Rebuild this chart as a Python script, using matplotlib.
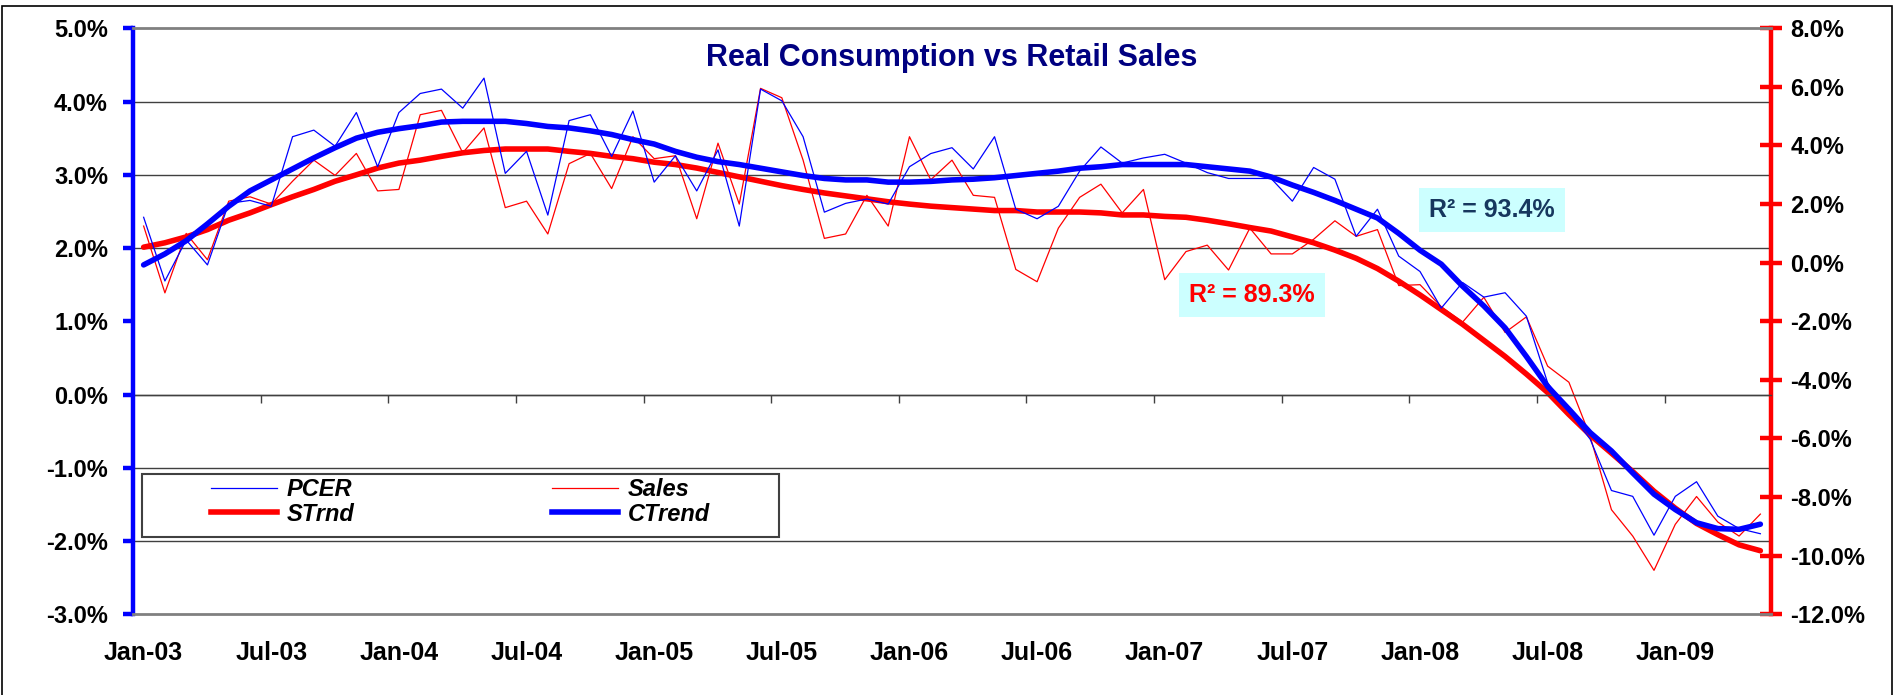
import matplotlib
matplotlib.use("Agg")
import matplotlib.pyplot as plt
from matplotlib.patches import Rectangle
from matplotlib.lines import Line2D
from matplotlib.ticker import FixedLocator, FuncFormatter

plt.rcParams["font.family"] = ["Liberation Sans", "DejaVu Sans"]
plt.rcParams["font.weight"] = "bold"

# Monthly, Jan-03 .. May-09 (yoy %)
pcer = [2.42, 1.55, 2.11, 1.77, 2.61, 2.65, 2.57, 3.52, 3.61, 3.39, 3.85, 3.11,
        3.85, 4.11, 4.17, 3.91, 4.32, 3.02, 3.32, 2.45, 3.74, 3.82, 3.25, 3.87,
        2.90, 3.26, 2.78, 3.34, 2.30, 4.17, 4.01, 3.52, 2.49, 2.61, 2.67, 2.60,
        3.11, 3.29, 3.37, 3.08, 3.52, 2.53, 2.40, 2.57, 3.05, 3.38, 3.16, 3.23,
        3.28, 3.16, 3.03, 2.95, 2.95, 2.95, 2.64, 3.10, 2.94, 2.16, 2.53, 1.89,
        1.68, 1.18, 1.53, 1.33, 1.39, 1.07, 0.16, -0.23, -0.61, -1.31, -1.39, -1.92,
        -1.39, -1.19, -1.66, -1.83, -1.90]
ctrend = [1.77, 1.92, 2.10, 2.33, 2.57, 2.78, 2.93, 3.08, 3.23, 3.37, 3.50, 3.58,
          3.63, 3.67, 3.72, 3.73, 3.73, 3.73, 3.70, 3.66, 3.64, 3.60, 3.55, 3.48,
          3.42, 3.32, 3.24, 3.18, 3.14, 3.09, 3.04, 2.99, 2.95, 2.93, 2.93, 2.90,
          2.90, 2.91, 2.93, 2.94, 2.96, 2.99, 3.02, 3.05, 3.09, 3.11, 3.14, 3.14,
          3.14, 3.14, 3.11, 3.08, 3.05, 2.97, 2.86, 2.76, 2.65, 2.53, 2.41, 2.20,
          1.97, 1.78, 1.48, 1.21, 0.91, 0.52, 0.11, -0.20, -0.52, -0.77, -1.07, -1.36,
          -1.57, -1.75, -1.83, -1.84, -1.77]
sales = [1.25, -1.03, 1.00, 0.10, 2.10, 2.25, 2.00, 2.78, 3.50, 2.98, 3.73, 2.45,
         2.50, 5.05, 5.20, 3.75, 4.60, 1.88, 2.10, 0.98, 3.38, 3.73, 2.53, 4.30,
         3.55, 3.65, 1.50, 4.08, 2.00, 5.95, 5.63, 3.50, 0.83, 0.98, 2.30, 1.25,
         4.30, 2.83, 3.50, 2.30, 2.23, -0.23, -0.65, 1.18, 2.23, 2.68, 1.70, 2.50,
         -0.58, 0.38, 0.60, -0.25, 1.18, 0.30, 0.30, 0.80, 1.43, 0.90, 1.13, -0.78,
         -0.75, -1.50, -2.03, -1.18, -2.38, -1.85, -3.53, -4.08, -5.93, -8.43, -9.33, -10.50,
         -8.93, -7.98, -8.85, -9.33, -8.58]
strnd = [0.53, 0.68, 0.88, 1.13, 1.45, 1.70, 1.98, 2.25, 2.50, 2.78, 3.00, 3.23,
         3.40, 3.50, 3.63, 3.75, 3.83, 3.88, 3.88, 3.88, 3.80, 3.73, 3.63, 3.55,
         3.43, 3.35, 3.23, 3.08, 2.93, 2.78, 2.63, 2.50, 2.38, 2.28, 2.18, 2.08,
         2.00, 1.93, 1.88, 1.83, 1.78, 1.78, 1.73, 1.73, 1.73, 1.70, 1.63, 1.63,
         1.58, 1.55, 1.45, 1.33, 1.20, 1.08, 0.88, 0.68, 0.43, 0.15, -0.20, -0.63,
         -1.10, -1.60, -2.10, -2.65, -3.20, -3.80, -4.43, -5.18, -5.88, -6.50, -7.13, -7.80,
         -8.38, -8.90, -9.28, -9.63, -9.83]

xlabels = ["Jan-03", "Jul-03", "Jan-04", "Jul-04", "Jan-05", "Jul-05", "Jan-06",
           "Jul-06", "Jan-07", "Jul-07", "Jan-08", "Jul-08", "Jan-09"]
r2_sales = "R\u00b2 = 89.3%"
r2_cons = "R\u00b2 = 93.4%"

BLUE = "#0000FF"
RED = "#FF0000"
GRID = "#404040"
EDGE = "#808080"

n = len(pcer)
x = list(range(n))

fig = plt.figure(figsize=(19, 6.95), dpi=100)
fig.patch.set_facecolor("white")
ax = fig.add_axes([133 / 1900, 1 - 614.3 / 695, (1771 - 133) / 1900, 586 / 695])
ax2 = ax.twinx()

L_LIM = (-3, 5)
R_LIM = (-12, 8)
ax.set_xlim(-0.5, n - 0.5)
ax.set_ylim(*L_LIM)
ax2.set_ylim(*R_LIM)

pct = FuncFormatter(lambda v, p: f"{v:.1f}%")
lticks = list(range(L_LIM[0], L_LIM[1] + 1))
ax.set_yticks(lticks)
ax.yaxis.set_major_formatter(pct)
ax2.set_yticks(list(range(R_LIM[0], R_LIM[1] + 1, 2)))
ax2.yaxis.set_major_formatter(pct)

# gridlines live on the lower (right) axes so they stay behind every line
def l_to_r(v):
    return R_LIM[0] + (v - L_LIM[0]) / (L_LIM[1] - L_LIM[0]) * (R_LIM[1] - R_LIM[0])

ax2.yaxis.set_minor_locator(FixedLocator([l_to_r(v) for v in lticks[1:-1]]))
ax2.grid(which="minor", axis="y", color=GRID, lw=1.0)
ax2.tick_params(axis="y", which="minor", length=0)

ax2.set_zorder(1)
ax.set_zorder(2)
ax.patch.set_visible(False)
ax2.patch.set_visible(True)
ax2.patch.set_facecolor("white")

# series
ax2.plot(x, sales, color=RED, lw=0.9)
ax2.plot(x, strnd, color=RED, lw=4, solid_capstyle="round")
ax.plot(x, pcer, color=BLUE, lw=0.9)
ax.plot(x, ctrend, color=BLUE, lw=4, solid_capstyle="round")

# spines
ax.spines["right"].set_visible(False)
ax.spines["left"].set_color(BLUE)
ax.spines["left"].set_linewidth(3.2)
for s in ["top", "bottom"]:
    ax.spines[s].set_color(EDGE)
    ax.spines[s].set_linewidth(2)
for s in ["left", "top", "bottom"]:
    ax2.spines[s].set_visible(False)
ax2.spines["right"].set_color(RED)
ax2.spines["right"].set_linewidth(3.2)

ax.tick_params(axis="y", direction="out", length=7, width=3.2, color=BLUE,
               labelsize=17, pad=11, labelcolor="black")
ax2.tick_params(axis="y", which="major", direction="inout", length=16, width=3.2,
                color=RED, labelsize=17, pad=6, labelcolor="black")

# x labels at the bottom, centred on the January / July months
ax.set_xticks(x[::6])
ax.set_xticklabels(xlabels)
ax.tick_params(axis="x", length=0, labelsize=18, pad=19)

# small tick marks on the zero line at the half-year boundaries
zero_pos = (0 - L_LIM[0]) / (L_LIM[1] - L_LIM[0])
sec = ax.secondary_xaxis(zero_pos)
sec.set_xticks([v - 0.5 for v in x[::6]])
sec.tick_params(axis="x", direction="out", length=6, width=1, color=GRID,
                labelbottom=False, labeltop=False)
sec.spines["bottom"].set_color(GRID)
sec.spines["bottom"].set_linewidth(1)

# title
ax.text(0.5, 0.949, "Real Consumption vs Retail Sales", transform=ax.transAxes,
        ha="center", va="center", fontsize=22, color="#000080", fontweight="bold")

# R^2 boxes
box = dict(boxstyle="square,pad=0.4", facecolor="#CCFFFF", edgecolor="none")
ax.text(0.683, 0.5457, r2_sales, transform=ax.transAxes, ha="center", va="center",
        fontsize=18, color=RED, fontweight="bold", bbox=box)
ax.text(0.8297, 0.690, r2_cons, transform=ax.transAxes, ha="center", va="center",
        fontsize=18, color="#17375E", fontweight="bold", bbox=box)

# legend box (row 1: PCER, Sales; row 2: STrnd, CTrend)
ax.add_patch(Rectangle((0.0055, 0.1319), 0.3889, 0.1075, transform=ax.transAxes,
                       facecolor="white", edgecolor="#404040", lw=1.5, zorder=9))
handles = [
    Line2D([], [], color=BLUE, lw=0.9),
    Line2D([], [], color=RED, lw=4),
    Line2D([], [], color=RED, lw=0.9),
    Line2D([], [], color=BLUE, lw=4),
]
names = ["PCER", "STrnd", "Sales", "CTrend"]
leg = ax.legend(handles, names, ncol=2, loc="center left",
                bbox_to_anchor=(0.0476, 0.1916, 0.3046, 0), mode="expand",
                prop=dict(size=17, weight="bold", style="italic"),
                frameon=False, handlelength=2.8, handletextpad=0.4,
                borderaxespad=0, borderpad=0, labelspacing=0.05)
leg.set_zorder(10)

# outer chart frame
fig.patches.append(Rectangle((2 / 1900, -0.01), 1890 / 1900, 1 - 6 / 695 + 0.01,
                             transform=fig.transFigure, fill=False,
                             edgecolor="black", lw=1.2))

fig.savefig("out.png", dpi=100)
